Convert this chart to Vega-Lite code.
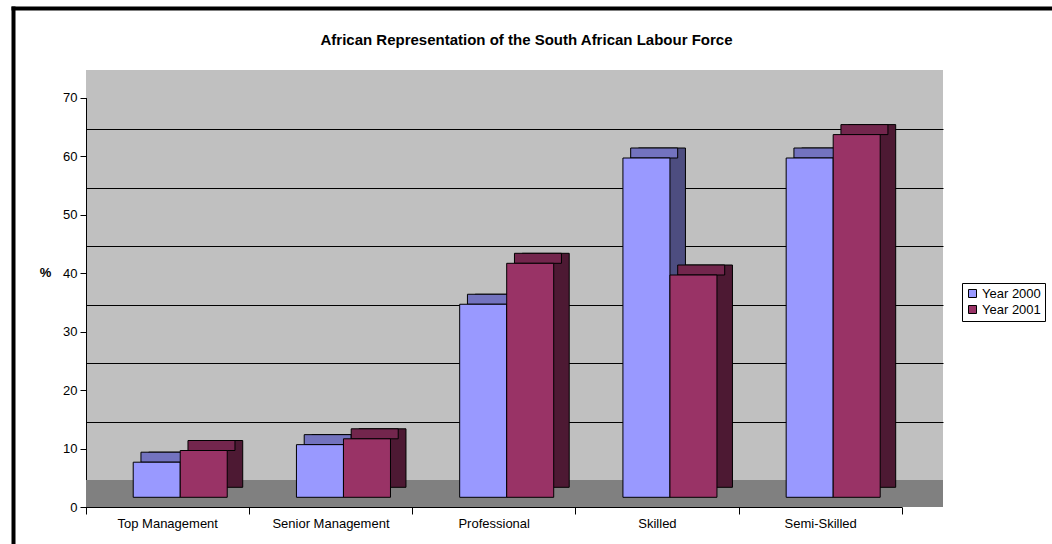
{
  "$schema": "https://vega.github.io/schema/vega-lite/v6.json",
  "width": 857,
  "height": 437,
  "autosize": {"type": "none"},
  "padding": {"left": 86, "top": 70, "right": 109, "bottom": 37},
  "background": "white",
  "config": {
    "view": {"stroke": null, "fill": "#C0C0C0"},
    "font": "Liberation Sans"
  },
  "title": {
    "text": "African Representation of the South African Labour Force",
    "font": "Liberation Sans",
    "fontSize": 15,
    "fontWeight": "bold",
    "color": "#000000",
    "anchor": "middle",
    "frame": "group",
    "baseline": "alphabetic",
    "dx": 12,
    "dy": 56
  },
  "datasets": {
    "labour": [
      {"cat": "Top Management", "year": "Year 2000", "value": 6},
      {"cat": "Top Management", "year": "Year 2001", "value": 8},
      {"cat": "Senior Management", "year": "Year 2000", "value": 9},
      {"cat": "Senior Management", "year": "Year 2001", "value": 10},
      {"cat": "Professional", "year": "Year 2000", "value": 33},
      {"cat": "Professional", "year": "Year 2001", "value": 40},
      {"cat": "Skilled", "year": "Year 2000", "value": 58},
      {"cat": "Skilled", "year": "Year 2001", "value": 38},
      {"cat": "Semi-Skilled", "year": "Year 2000", "value": 58},
      {"cat": "Semi-Skilled", "year": "Year 2001", "value": 62}
    ]
  },
  "data": {"name": "labour"},
  "layer": [
    {
      "mark": {"type": "rect", "color": "#808080"},
      "encoding": {
        "y": {
          "datum": 0, "type": "quantitative",
          "scale": {"domain": [0, 70], "range": [410.2, 0.7], "nice": false, "zero": false},
          "axis": {
            "orient": "left", "grid": true, "gridColor": "#000000", "gridOpacity": 1, "gridWidth": 1,
            "values": [10, 20, 30, 40, 50, 60], "labels": false, "ticks": false, "domain": false, "title": null
          }
        },
        "y2": {"datum": -4.58}
      }
    },
    {
      "mark": {"type": "point", "opacity": 0},
      "encoding": {
        "x": {
          "field": "value", "type": "quantitative",
          "scale": {"domain": [0, 70], "range": [-73, 972], "nice": false, "zero": false},
          "axis": {
            "orient": "top", "offset": 62, "labels": false, "ticks": false, "grid": false, "title": null,
            "domainColor": "#000000", "domainWidth": 4, "domainCap": "square"
          }
        },
        "y": {
          "field": "value", "type": "quantitative",
          "scale": {"domain": [0, 70], "range": [480, -62], "nice": false, "zero": false},
          "axis": {
            "orient": "left", "offset": 73, "labels": false, "ticks": false, "grid": false, "title": null,
            "domainColor": "#000000", "domainWidth": 4, "domainCap": "square"
          }
        }
      }
    },
    {
      "mark": {"type": "point", "opacity": 0},
      "encoding": {
        "x": {
          "field": "cat", "type": "nominal",
          "sort": ["Top Management", "Senior Management", "Professional", "Skilled", "Semi-Skilled"],
          "scale": {"range": [-0.4, 815.8], "paddingInner": 0, "paddingOuter": 0},
          "axis": {
            "orient": "bottom", "offset": 0, "tickBand": "extent", "title": null, "labelAngle": 0,
            "domainColor": "#000000", "domainWidth": 1, "tickColor": "#000000", "tickSize": 7,
            "labelColor": "#000000", "labelFontSize": 13, "labelFont": "Liberation Sans", "labelPadding": 3, "grid": false
          }
        },
        "y": {
          "field": "value", "type": "quantitative",
          "scale": {"domain": [0, 70], "range": [437, 27.5], "nice": false, "zero": false},
          "axis": {
            "orient": "left", "offset": 0, "values": [0, 10, 20, 30, 40, 50, 60, 70], "grid": false,
            "domainColor": "#000000", "domainWidth": 1, "tickColor": "#000000", "tickSize": 6,
            "labelColor": "#000000", "labelFontSize": 13, "labelFont": "Liberation Sans", "labelPadding": 3,
            "title": "%", "titleAngle": 0, "titleX": -41, "titleY": 202, "titleAlign": "center", "titleBaseline": "middle",
            "titleFontSize": 13, "titleFontWeight": "bold", "titleColor": "#000000", "titleFont": "Liberation Sans"
          }
        }
      }
    },
    {
      "mark": {"type": "bar", "stroke": "#000000", "strokeWidth": 1},
      "encoding": {
        "x": {
          "field": "cat", "type": "nominal",
          "sort": ["Top Management", "Senior Management", "Professional", "Skilled", "Semi-Skilled"],
          "scale": {"range": [28.1, 844.3], "paddingInner": 0.424, "paddingOuter": 0.212},
          "axis": null
        },
        "xOffset": {"field": "year", "type": "nominal", "scale": {"paddingInner": 0, "paddingOuter": 0}},
        "y": {
          "field": "value", "type": "quantitative",
          "scale": {"domain": [0, 70], "range": [417.3, 7.8], "nice": false, "zero": false},
          "axis": null
        },
        "color": {
          "field": "year", "type": "nominal",
          "scale": {"domain": ["Year 2000", "Year 2001"], "range": ["#4D4D80", "#4D1933"]},
          "legend": null
        }
      }
    },
    {
      "mark": {"type": "tick", "size": 47, "thickness": 10, "stroke": "#000000", "strokeWidth": 1, "opacity": 1},
      "encoding": {
        "x": {
          "field": "cat", "type": "nominal",
          "sort": ["Top Management", "Senior Management", "Professional", "Skilled", "Semi-Skilled"],
          "scale": {"range": [20.35, 836.55], "paddingInner": 0.424, "paddingOuter": 0.212},
          "axis": null
        },
        "xOffset": {"field": "year", "type": "nominal", "scale": {"paddingInner": 0, "paddingOuter": 0}},
        "y": {
          "field": "value", "type": "quantitative",
          "scale": {"domain": [0, 70], "range": [422.3, 12.8], "nice": false, "zero": false},
          "axis": null
        },
        "color": {
          "field": "year", "type": "nominal",
          "scale": {"domain": ["Year 2000", "Year 2001"], "range": ["#7373BF", "#73264D"]},
          "legend": null
        }
      }
    },
    {
      "mark": {"type": "bar", "stroke": "#000000", "strokeWidth": 1},
      "encoding": {
        "x": {
          "field": "cat", "type": "nominal",
          "sort": ["Top Management", "Senior Management", "Professional", "Skilled", "Semi-Skilled"],
          "scale": {"range": [12.6, 828.8], "paddingInner": 0.424, "paddingOuter": 0.212},
          "axis": null
        },
        "xOffset": {"field": "year", "type": "nominal", "scale": {"paddingInner": 0, "paddingOuter": 0}},
        "y": {
          "field": "value", "type": "quantitative",
          "scale": {"domain": [0, 70], "range": [427.3, 17.8], "nice": false, "zero": false},
          "axis": null
        },
        "color": {
          "field": "year", "type": "nominal",
          "scale": {"domain": ["Year 2000", "Year 2001"], "range": ["#9999FF", "#993366"]},
          "legend": {
            "title": null, "orient": "none", "legendX": 876, "legendY": 213,
            "strokeColor": "#000000", "fillColor": "white", "padding": 4,
            "symbolType": "square", "symbolSize": 64, "symbolStrokeColor": "#000000", "symbolStrokeWidth": 1,
            "labelFontSize": 13, "labelFont": "Liberation Sans", "labelColor": "#000000", "labelOffset": 3, "rowPadding": 2
          }
        }
      }
    }
  ],
  "resolve": {
    "scale": {"x": "independent", "y": "independent", "color": "independent", "xOffset": "independent"},
    "axis": {"x": "independent", "y": "independent"}
  }
}
